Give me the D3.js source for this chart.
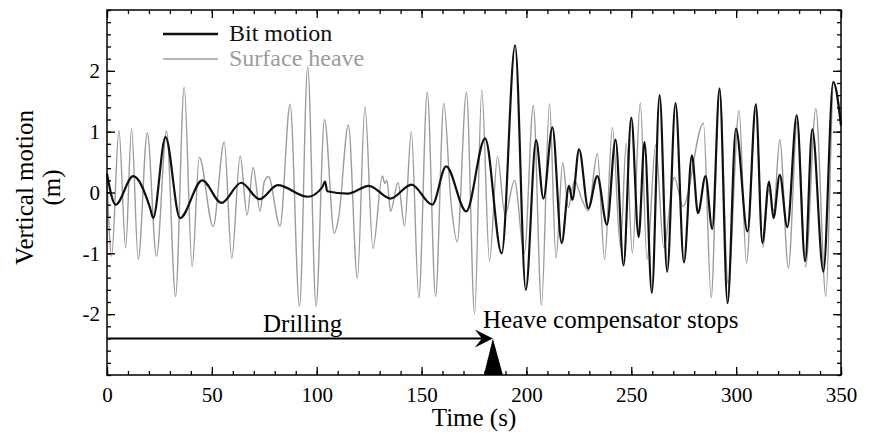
<!DOCTYPE html>
<html>
<head>
<meta charset="utf-8">
<script src="https://cdn.jsdelivr.net/npm/d3@7"></script>
<style>
  body { margin: 0; background: #fff; }
  text { font-family: "Liberation Serif", "Times New Roman", serif; }
</style>
</head>
<body>
<div id="chart"></div>
<script>
// bit motion at its turning points
const bitTime = [0, 4.1, 12.5, 20.5, 22, 27.9, 34.8, 45.4, 54.6, 64, 72.7, 81.4, 95.7, 102.5, 104, 105,
  114.8, 124.9, 135.2, 145.2, 155.1, 161.7, 171.3, 180.3, 188.2, 194.6, 199.7, 204.6, 208.1, 212.4,
  216.8, 220.3, 221.9, 225.1, 229.5, 233.8, 238.4, 242.5, 246.3, 250, 253.5, 256.3, 259.8, 263.5,
  267.1, 271.1, 275.1, 278.9, 281.8, 285.4, 288.6, 292.1, 295.9, 299.9, 305.4, 309.4, 312.5, 315.7,
  317.8, 320.8, 324.4, 328.9, 332.9, 336.3, 341.6, 346.3, 350];
const bitMotion = [0.31, -0.2, 0.27, -0.25, -0.42, 0.91, -0.42, 0.2, -0.17, 0.16, -0.11, 0.12, -0.07, 0.08, 0.18, 0.02,
  -0.02, 0.11, -0.1, 0.13, -0.2, 0.43, -0.31, 0.89, -1.0, 2.42, -1.6, 0.86, -0.1, 1.07,
  -0.83, 0.11, -0.12, 0.71, -0.26, 0.27, -0.53, 0.87, -1.2, 1.23, -0.73, 0.83, -1.65, 1.6,
  -1.3, 1.47, -1.15, 0.61, -0.34, 0.27, -0.6, 1.71, -1.82, 1.05, -0.64, 1.45, -0.83, 0.18,
  -0.42, 0.29, -0.57, 1.27, -1.13, 1.04, -1.3, 1.82, 1.1];

// surface heave
const heaveTime = [0, 2.2, 5.7, 8.9, 11.7, 14.9, 19.2, 23.6, 28.4, 32.7, 36.8, 40.6, 44, 50.6, 55.9, 59.5,
  63.5, 66.8, 69.7, 73, 75, 77, 82.5, 87.3, 91.8, 95.7, 99.7, 103.7, 108.4, 110.5, 115.1, 119.4,
  123, 126.8, 131.3, 132.5, 133.5, 135.2, 138.8, 141.9, 145.1, 148.7, 152.7, 156.7, 160.6, 164, 167,
  171.4, 175.3, 178.7, 182.4, 186.2, 189.8, 194.3, 199, 203.3, 207.2, 211, 214.1, 217.3, 220, 222.9,
  226.5, 229.5, 233.8, 237.3, 241, 244.8, 247.6, 250.5, 254.3, 257.5, 261.6, 265.5, 270.5, 274.6,
  284.4, 288.1, 292, 296.2, 301.4, 304.9, 309.3, 312.8, 315.5, 317.9, 320.8, 324.9, 329.2, 333.1,
  338, 342.8, 346.5, 350];
const surfaceHeave = [0.25, -1.05, 1.02, -0.91, 1.05, -1.1, 0.98, -1.05, 1.01, -1.71, 1.73, -1.22, 0.58, -0.56, 0.83, -1.08,
  0.6, -0.37, 0.41, -0.31, 0.18, 0.26, -0.55, 1.45, -1.87, 2.07, -1.87, 1.2, -0.67, -0.4, 1.11, -1.41,
  1.41, -0.92, 0.27, 0.15, 0.2, -0.31, 0.16, -0.55, 1.0, -1.73, 1.65, -1.71, 1.47, -0.15, -0.81,
  1.65, -2.0, 1.68, -1.13, 0.59, -0.37, 0.2, -1.0, 1.43, -1.85, 1.46, -1.08, 0.49, -0.25, 0.2,
  -0.12, -0.3, 0.64, -1.1, 1.07, -0.89, 0.81, -1.0, 1.47, -1.1, 0.78, -0.9, 0.25, -0.23,
  1.14, -1.73, 1.72, -1.5, 1.35, -1.16, 1.35, -0.9, 0.05, -0.3, 0.87, -1.24, 1.2, -1.22,
  1.38, -1.71, 1.8, 1.2];

const xTicks = [0, 50, 100, 150, 200, 250, 300, 350];
const yTicks = [-2, -1, 0, 1, 2];
const drillEnd = 184;

const width = 874;
const height = 437;
const margin = {top: 10, right: 33, bottom: 62, left: 107};

const svg = d3.select('#chart')
.append('svg')
.attr('width', width)
.attr('height', height);

const x = d3.scaleLinear().domain([0, 350]).range([margin.left, width - margin.right]);
const y = d3.scaleLinear().domain([-3, 3]).range([height - margin.bottom, margin.top]);

const line = d3.line()
.x(d => x(d[0]))
.y(d => y(d[1]))
.curve(d3.curveMonotoneX);

// heave first so bit motion sits on top
svg.append('path')
.datum(d3.zip(heaveTime, surfaceHeave))
.attr('d', line)
.attr('fill', 'none')
.attr('stroke', '#9c9c9c')
.attr('stroke-width', 1.4);

svg.append('path')
.datum(d3.zip(bitTime, bitMotion))
.attr('d', line)
.attr('fill', 'none')
.attr('stroke', '#111')
.attr('stroke-width', 2.2);

// axes: ticks pointing inward on all four sides
const bottom = height - margin.bottom;
const right = width - margin.right;

function addAxis(axis, tx, ty) {
    const g = svg.append('g')
    .attr('transform', `translate(${tx},${ty})`)
    .call(axis);
    g.select('.domain').remove();
    g.selectAll('line').attr('stroke', '#000').attr('stroke-width', 1.3);
    return g;
}

const xMinor = d3.range(0, 351, 10);
const yMinor = d3.range(-30, 31, 2).map(d => d / 10);

addAxis(d3.axisBottom(x).tickValues(xMinor).tickSize(-4).tickFormat(''), 0, bottom);
addAxis(d3.axisTop(x).tickValues(xMinor).tickSize(-4).tickFormat(''), 0, margin.top);
addAxis(d3.axisLeft(y).tickValues(yMinor).tickSize(-4).tickFormat(''), margin.left, 0);
addAxis(d3.axisRight(y).tickValues(yMinor).tickSize(-4).tickFormat(''), right, 0);

addAxis(d3.axisTop(x).tickValues(xTicks).tickSize(-8).tickFormat(''), 0, margin.top);
addAxis(d3.axisRight(y).tickValues(yTicks).tickSize(-8).tickFormat(''), right, 0);

const xAxis = addAxis(d3.axisBottom(x).tickValues(xTicks).tickSize(-8).tickPadding(12).tickFormat(d => String(d)), 0, bottom);
xAxis.selectAll('text')
.attr('font-size', 21)
.attr('fill', '#000');

const yAxis = addAxis(d3.axisLeft(y).tickValues(yTicks).tickSize(-8).tickPadding(7).tickFormat(d => String(d)), margin.left, 0);
yAxis.selectAll('text')
.attr('font-size', 21)
.attr('fill', '#000');

svg.append('rect')
.attr('x', margin.left)
.attr('y', margin.top)
.attr('width', right - margin.left)
.attr('height', bottom - margin.top)
.attr('fill', 'none')
.attr('stroke', '#000')
.attr('stroke-width', 1.5);

// axis titles
svg.append('text')
.attr('x', (margin.left + right) / 2)
.attr('y', 426)
.attr('text-anchor', 'middle')
.attr('font-size', 25)
.text('Time (s)');

const yTitle = svg.append('text')
.attr('transform', `translate(0,${y(0) - 5}) rotate(-90)`)
.attr('text-anchor', 'middle')
.attr('font-size', 25);
yTitle.append('tspan').attr('x', 0).attr('y', 33).text('Vertical motion');
yTitle.append('tspan').attr('x', 0).attr('y', 60).text('(m)');

// legend
const legend = [
    {name: 'Bit motion', color: '#111', w: 2.5},
    {name: 'Surface heave', color: '#9c9c9c', w: 1.5},
];
const lg = svg.selectAll('.legend')
.data(legend)
.enter()
.append('g')
.attr('transform', (d, i) => `translate(163,${34 + i * 25})`);
lg.append('line')
.attr('x1', 0).attr('x2', 55)
.attr('stroke', d => d.color)
.attr('stroke-width', d => d.w);
lg.append('text')
.attr('x', 66)
.attr('y', 7)
.attr('font-size', 24)
.attr('fill', d => d.color)
.text(d => d.name);

// drilling arrow and the point where the compensator stops
const ay = y(-2.4);
const tipX = x(drillEnd);
svg.append('line')
.attr('x1', x(0)).attr('x2', tipX - 4)
.attr('y1', ay).attr('y2', ay)
.attr('stroke', '#000')
.attr('stroke-width', 2);
svg.append('path')
.attr('d', `M${tipX},${ay} L${tipX - 18},${ay - 9} L${tipX - 11},${ay} L${tipX - 18},${ay + 9} Z`)
.attr('fill', '#000');
svg.append('path')
.attr('d', `M${tipX},${ay} L${tipX + 10},${bottom} L${tipX - 9},${bottom} Z`)
.attr('fill', '#000');

svg.append('text')
.attr('x', 263)
.attr('y', 332)
.attr('font-size', 25)
.text('Drilling');

svg.append('text')
.attr('x', 483)
.attr('y', 328)
.attr('font-size', 25)
.text('Heave compensator stops');
</script>
</body>
</html>
